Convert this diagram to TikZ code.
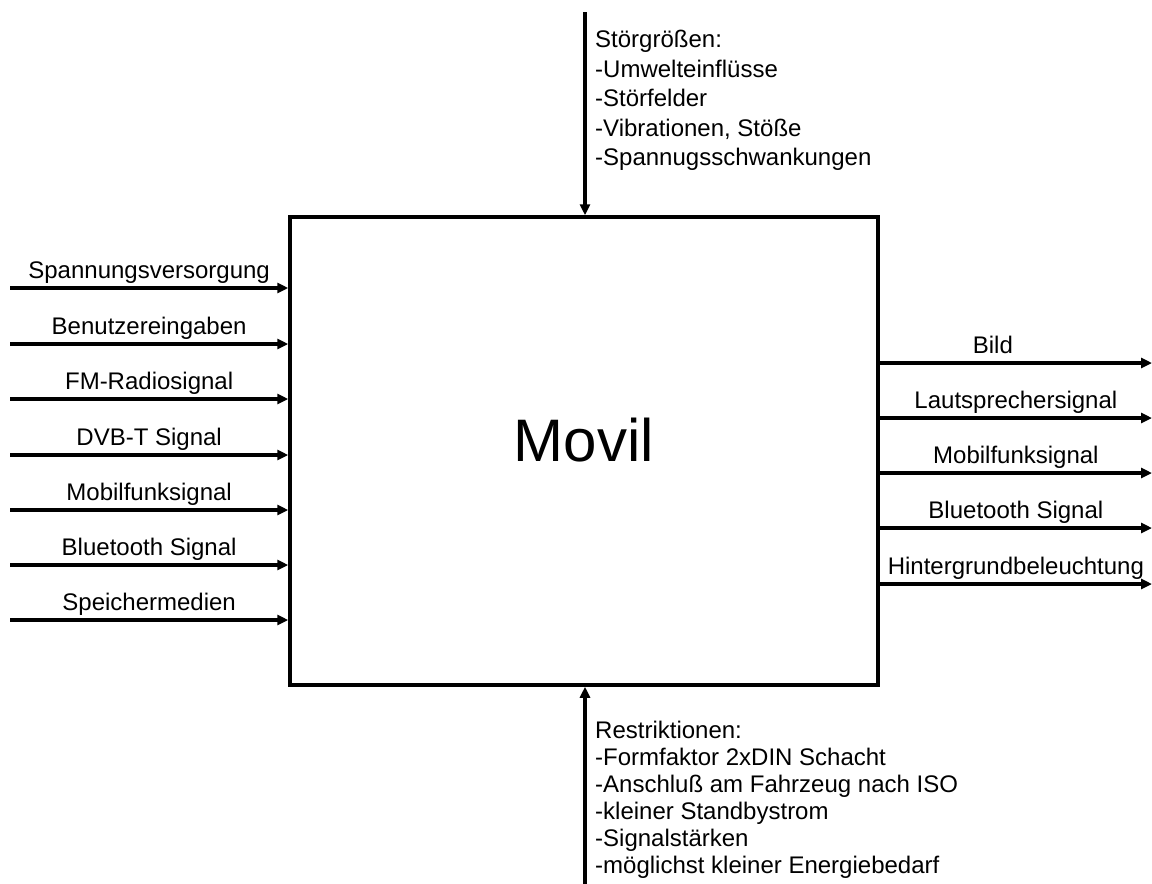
\documentclass[tikz,border=0pt]{standalone}
\usepackage{fontspec}
\setmainfont{Liberation Sans}
\usetikzlibrary{arrows.meta,positioning,calc}

\begin{document}
\begin{tikzpicture}[
    x=1pt, y=-1pt,
    block/.style={rectangle, draw, line width=3.5pt, minimum width=588pt, minimum height=468pt},
    sig/.style={line width=3.5pt, -{Triangle[length=11pt,width=10pt]}},
    lbl/.style={anchor=base, inner sep=0pt, yshift=10pt, font=\fontsize{24}{28}\selectfont},
    note/.style={anchor=north west, inner sep=0pt, align=left},
]
    \useasboundingbox (0,0) rectangle (1152,884);

    % System block
    \node[block] (movil) at (584,451) {};
    \node at (584,440) [font=\fontsize{60}{72}\selectfont] (title) {Movil};

    % Inputs
    \coordinate (in1) at (10,288);
    \coordinate (in2) at (10,344);
    \coordinate (in3) at (10,399);
    \coordinate (in4) at (10,455);
    \coordinate (in5) at (10,510);
    \coordinate (in6) at (10,565);
    \coordinate (in7) at (10,620);

    \draw[sig] (in1) -- node[lbl] {Spannungsversorgung} (in1 -| movil.west);
    \draw[sig] (in2) -- node[lbl] {Benutzereingaben} (in2 -| movil.west);
    \draw[sig] (in3) -- node[lbl] {FM-Radiosignal} (in3 -| movil.west);
    \draw[sig] (in4) -- node[lbl] {DVB-T Signal} (in4 -| movil.west);
    \draw[sig] (in5) -- node[lbl] {Mobilfunksignal} (in5 -| movil.west);
    \draw[sig] (in6) -- node[lbl] {Bluetooth Signal} (in6 -| movil.west);
    \draw[sig] (in7) -- node[lbl] {Speichermedien} (in7 -| movil.west);

    % Outputs
    \coordinate (out1) at (1152,363);
    \coordinate (out2) at (1152,418);
    \coordinate (out3) at (1152,473);
    \coordinate (out4) at (1152,528);
    \coordinate (out5) at (1152,584);

    \draw[sig] (out1 -| movil.east) -- node[lbl, xshift=-23pt] {Bild} (out1);
    \draw[sig] (out2 -| movil.east) -- node[lbl] {Lautsprechersignal} (out2);
    \draw[sig] (out3 -| movil.east) -- node[lbl] {Mobilfunksignal} (out3);
    \draw[sig] (out4 -| movil.east) -- node[lbl] {Bluetooth Signal} (out4);
    \draw[sig] (out5 -| movil.east) -- node[lbl] {Hintergrundbeleuchtung} (out5);

    % Disturbances and restrictions
    \coordinate (dist) at (585,12);
    \coordinate (restr) at (585,884);

    \draw[sig] (dist) -- (dist |- movil.north);
    \draw[sig] (restr) -- (restr |- movil.south);

    \node[note, font=\fontsize{24}{29.5}\selectfont] (disttext) at (595,30)
        {St\"orgr\"o\ss en:\\-Umwelteinfl\"usse\\-St\"orfelder\\-Vibrationen, St\"o\ss e\\-Spannugsschwankungen};
    \node[note, font=\fontsize{24}{27}\selectfont] (restrtext) at (595,721)
        {Restriktionen:\\-Formfaktor 2xDIN Schacht\\-Anschlu\ss{} am Fahrzeug nach ISO\\-kleiner Standbystrom\\-Signalst\"arken\\-m\"oglichst kleiner Energiebedarf};

\end{tikzpicture}
\end{document}
